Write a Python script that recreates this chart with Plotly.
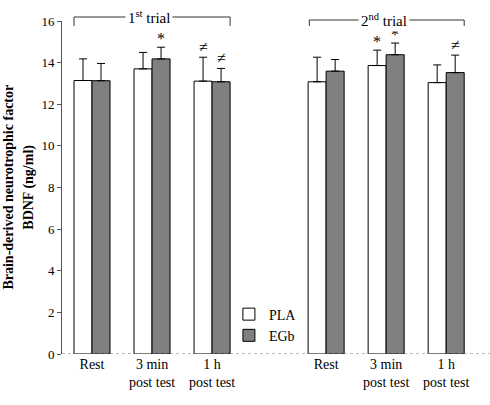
import plotly.graph_objects as go

categories = ["Rest", "3 min<br>post test", "1 h<br>post test",
              "Rest", "3 min<br>post test", "1 h<br>post test"]
x_pos = [0, 1, 2, 3.9, 4.9, 5.9]
pla_values = [13.14, 13.70, 13.11, 13.08, 13.86, 13.04]
pla_errors = [1.04, 0.79, 1.15, 1.18, 0.74, 0.85]
egb_values = [13.13, 14.18, 13.08, 13.59, 14.38, 13.52]
egb_errors = [0.83, 0.56, 0.64, 0.56, 0.56, 0.84]
pla_marks = ["", "", "≠", "", "*", ""]
egb_marks = ["", "*", "≠", "", "*", "≠"]
y_ticks = [0, 2, 4, 6, 8, 10, 12, 14, 16]

FONT = "Times New Roman, Liberation Serif, serif"
fig = go.Figure()
fig.add_trace(go.Bar(
    x=x_pos, y=pla_values, name="PLA", offsetgroup="a",
    marker=dict(color="white", line=dict(color="black", width=1)),
    error_y=dict(type="data", array=pla_errors, arrayminus=[0]*6, symmetric=False,
                 color="black", thickness=1, width=4),
))
fig.add_trace(go.Bar(
    x=x_pos, y=egb_values, name="EGb", offsetgroup="b",
    marker=dict(color="#808080", line=dict(color="black", width=1)),
    error_y=dict(type="data", array=egb_errors, arrayminus=[0]*6, symmetric=False,
                 color="black", thickness=1, width=4),
))

ann = []
for i, xp in enumerate(x_pos):
    for marks, vals, errs, off in ((pla_marks, pla_values, pla_errors, -0.15),
                                   (egb_marks, egb_values, egb_errors, 0.15)):
        m = marks[i]
        if m:
            ann.append(dict(x=xp + off, y=vals[i] + errs[i], xref="x", yref="y",
                            text=m, showarrow=False, yanchor="bottom",
                            yshift=-2 if m == "*" else 0,
                            font=dict(family=FONT, size=16, color="black")))

# trial brackets
shapes = []
for (x0, x1, yl, label) in ((-0.3, 2.3, 1.012, "1<sup>st</sup> trial"),
                            (3.62, 6.2, 1.003, "2<sup>nd</sup> trial")):
    shapes.append(dict(type="line", xref="x", yref="paper", x0=x0, x1=x1, y0=yl, y1=yl,
                       line=dict(color="#333333", width=1)))
    for xx in (x0, x1):
        shapes.append(dict(type="line", xref="x", yref="paper", x0=xx, x1=xx, y0=yl, y1=0.985,
                           line=dict(color="#333333", width=1)))
    ann.append(dict(x=(x0 + x1) / 2 - 0.05, y=yl, xref="x", yref="paper", text=label,
                    showarrow=False, bgcolor="white", yanchor="middle", borderpad=2,
                    font=dict(family=FONT, size=15, color="black")))

# dotted x axis baseline
shapes.append(dict(type="line", xref="paper", yref="y", x0=0, x1=1, y0=0, y1=0,
                   line=dict(color="#777777", width=1, dash="dot")))

ann.append(dict(x=-0.126, y=0.5, xref="paper", yref="paper", textangle=-90,
                xanchor="center", yanchor="middle",
                text="<b>Brain-derived neurotrophic factor</b>", showarrow=False,
                font=dict(family=FONT, size=14, color="black")))
ann.append(dict(x=-0.079, y=0.5, xref="paper", yref="paper", textangle=-90,
                xanchor="center", yanchor="middle",
                text="<b>BDNF (ng/ml)</b>", showarrow=False,
                font=dict(family=FONT, size=14, color="black")))

fig.update_layout(
    width=490, height=405,
    margin=dict(l=62, r=0, t=21, b=51),
    plot_bgcolor="white", paper_bgcolor="white",
    barmode="group", bargap=0.4, bargroupgap=0,
    font=dict(family=FONT, size=12, color="black"),
    showlegend=True,
    legend=dict(x=0.39, y=0.087, xanchor="left", yanchor="middle",
                font=dict(family=FONT, size=14, color="black"),
                bgcolor="rgba(0,0,0,0)", tracegroupgap=4, itemwidth=30),
    annotations=ann, shapes=shapes,
)
fig.update_xaxes(range=[-0.5, 6.63], tickmode="array", tickvals=x_pos, ticktext=categories,
                 showline=False, ticks="", showgrid=False, zeroline=False,
                 tickfont=dict(family=FONT, size=14))
fig.update_yaxes(range=[0, 16], tickvals=y_ticks, showline=True, linecolor="#555555",
                 linewidth=1, ticks="outside", ticklen=4, tickcolor="#555555",
                 showgrid=False, zeroline=False, tickfont=dict(family=FONT, size=13))

fig.write_html("out.html")
